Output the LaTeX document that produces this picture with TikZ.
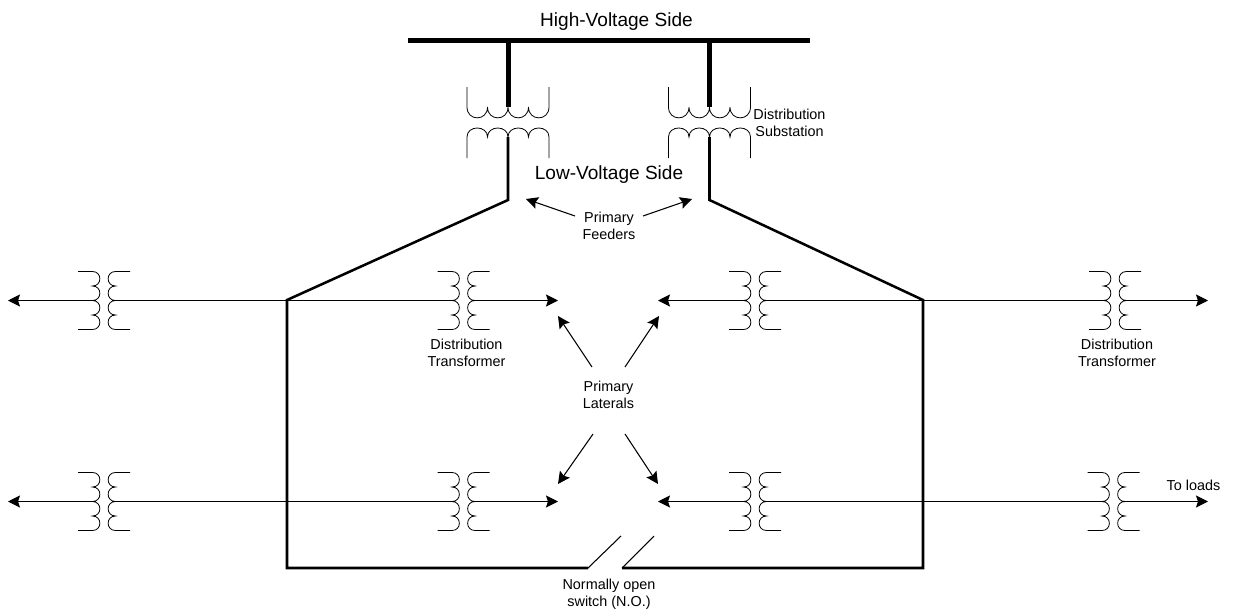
\documentclass[tikz,border=0pt]{standalone}
\usepackage{xcolor}
\usepackage{fontspec}
\setmainfont{Liberation Sans}
\usetikzlibrary{arrows.meta}
\tikzset{
  bigtext/.style={font=\fontsize{14.3}{16}\selectfont, inner sep=0pt},
  smalltext/.style={font=\fontsize{10.8}{12.6}\selectfont, align=center, inner sep=0pt},
  thinline/.style={line width=0.8pt},
  tipline/.style={line width=0.8pt, -{Stealth[length=9pt,width=9pt,inset=1.5pt]}},
  frameline/.style={line width=1.9pt, line join=miter},
  busline/.style={line width=3.75pt},
  coil/.style={line width=0.6pt},
  xfmr/.pic={
    \coordinate (-pri) at (-11.5,0);
    \coordinate (-sec) at (11.5,0);
    \draw[coil] (-26,-29) -- (-11.5,-29)
      .. controls (-1.7,-29) and (-1.7,-14.5) .. (-11.5,-14.5)
      .. controls (-1.7,-14.5) and (-1.7,0) .. (-11.5,0)
      .. controls (-1.7,0) and (-1.7,14.5) .. (-11.5,14.5)
      .. controls (-1.7,14.5) and (-1.7,29) .. (-11.5,29) -- (-26,29);
    \draw[coil] (26,-29) -- (11.5,-29)
      .. controls (1.7,-29) and (1.7,-14.5) .. (11.5,-14.5)
      .. controls (1.7,-14.5) and (1.7,0) .. (11.5,0)
      .. controls (1.7,0) and (1.7,14.5) .. (11.5,14.5)
      .. controls (1.7,14.5) and (1.7,29) .. (11.5,29) -- (26,29);
  },
  subst/.pic={
    \coordinate (-hv) at (0,-15);
    \coordinate (-lv) at (0,15);
    \draw[coil] (-41,-35) -- (-41,-15)
      .. controls (-41,-0.5) and (-20.5,-0.5) .. (-20.5,-15)
      .. controls (-20.5,-0.5) and (0,-0.5) .. (0,-15)
      .. controls (0,-0.5) and (20.5,-0.5) .. (20.5,-15)
      .. controls (20.5,-0.5) and (41,-0.5) .. (41,-15) -- (41,-35);
    \draw[coil] (-41,36) -- (-41,15)
      .. controls (-41,3) and (-20.5,3) .. (-20.5,15)
      .. controls (-20.5,3) and (0,3) .. (0,15)
      .. controls (0,3) and (20.5,3) .. (20.5,15)
      .. controls (20.5,3) and (41,3) .. (41,15) -- (41,36);
  }
}

\begin{document}
\begin{tikzpicture}[x=0.75pt, y=-0.75pt]
        \useasboundingbox (0,0) rectangle (1233,611);

        % labels
        \node[bigtext] (hvside) at (616.5,22) {High-Voltage Side};
        \node[bigtext] (lvside) at (609,175) {Low-Voltage Side};
        \node[smalltext] (substation) at (789.5,122.5) {Distribution\\Substation};
        \node[smalltext] (feeders) at (609,225.5) {Primary\\Feeders};
        \node[smalltext] (laterals) at (608.5,394.5) {Primary\\Laterals};
        \node[smalltext] (dtleft) at (466.5,352.5) {Distribution\\Transformer};
        \node[smalltext] (dtright) at (1117,352.5) {Distribution\\Transformer};
        \node[smalltext] (loads) at (1193.5,485.5) {To loads};
        \node[smalltext] (switch) at (609,594) {Normally open\\switch (N.O.)};

        % substation
        \coordinate (busw) at (408,40);
        \coordinate (buse) at (810,40);
        \coordinate (busa) at (508,40);
        \coordinate (busb) at (709.5,40);
        \pic (suba) at (508,122) {subst};
        \pic (subb) at (709.5,122) {subst};
        \draw[busline] (busw) -- (buse);
        \draw[busline] (busa) -- (suba-hv);
        \draw[busline] (busb) -- (subb-hv);

        % transformers
        \pic (ta) at (104,300.5) {xfmr};
        \pic (tb) at (463.5,300.5) {xfmr};
        \pic (tc) at (755,300.5) {xfmr};
        \pic (td) at (1115,300.5) {xfmr};
        \pic (te) at (104,501.5) {xfmr};
        \pic (tf) at (463.5,501.5) {xfmr};
        \pic (tg) at (755,501.5) {xfmr};
        \pic (th) at (1113.5,501.5) {xfmr};

        % feeder loop
        \coordinate (benda) at (508,200);
        \coordinate (bendb) at (709.5,200);
        \coordinate (nw) at (287,300);
        \coordinate (ne) at (923,300);
        \coordinate (sw) at (287,568);
        \coordinate (se) at (923,568);
        \coordinate (swa) at (588,568);
        \coordinate (swb) at (622,568);
        \coordinate (swatop) at (621,536);
        \coordinate (swbtop) at (654,536);
        \draw[frameline] (suba-lv) -- (benda) -- (nw) -- (sw) -- (swa);
        \draw[frameline] (subb-lv) -- (bendb) -- (ne) -- (se) -- (swb);
        \draw[thinline] (swa) -- (swatop);
        \draw[thinline] (swb) -- (swbtop);

        % laterals
        \coordinate (enda) at (8,300.5);
        \coordinate (endb) at (558,300.5);
        \coordinate (endc) at (658,300.5);
        \coordinate (endd) at (1208,300.5);
        \coordinate (ende) at (8,501.5);
        \coordinate (endf) at (558,501.5);
        \coordinate (endg) at (658,501.5);
        \coordinate (endh) at (1208,501.5);
        \draw[tipline] (ta-pri) -- (enda);
        \draw[thinline] (ta-sec) -- (tb-pri);
        \draw[tipline] (tb-sec) -- (endb);
        \draw[tipline] (tc-pri) -- (endc);
        \draw[thinline] (tc-sec) -- (td-pri);
        \draw[tipline] (td-sec) -- (endd);
        \draw[tipline] (te-pri) -- (ende);
        \draw[thinline] (te-sec) -- (tf-pri);
        \draw[tipline] (tf-sec) -- (endf);
        \draw[tipline] (tg-pri) -- (endg);
        \draw[thinline] (tg-sec) -- (th-pri);
        \draw[tipline] (th-sec) -- (endh);

        % pointers
        \coordinate (fa) at (575,216);
        \coordinate (fb) at (643,216);
        \coordinate (fatip) at (526,199);
        \coordinate (fbtip) at (692,199);
        \coordinate (la) at (592,367);
        \coordinate (lb) at (625,367);
        \coordinate (lc) at (593,434);
        \coordinate (ld) at (625,434);
        \coordinate (latip) at (558,316);
        \coordinate (lbtip) at (659,316);
        \coordinate (lctip) at (558,484);
        \coordinate (ldtip) at (658,484);
        \draw[tipline] (fa) -- (fatip);
        \draw[tipline] (fb) -- (fbtip);
        \draw[tipline] (la) -- (latip);
        \draw[tipline] (lb) -- (lbtip);
        \draw[tipline] (lc) -- (lctip);
        \draw[tipline] (ld) -- (ldtip);
      \end{tikzpicture}
\end{document}
